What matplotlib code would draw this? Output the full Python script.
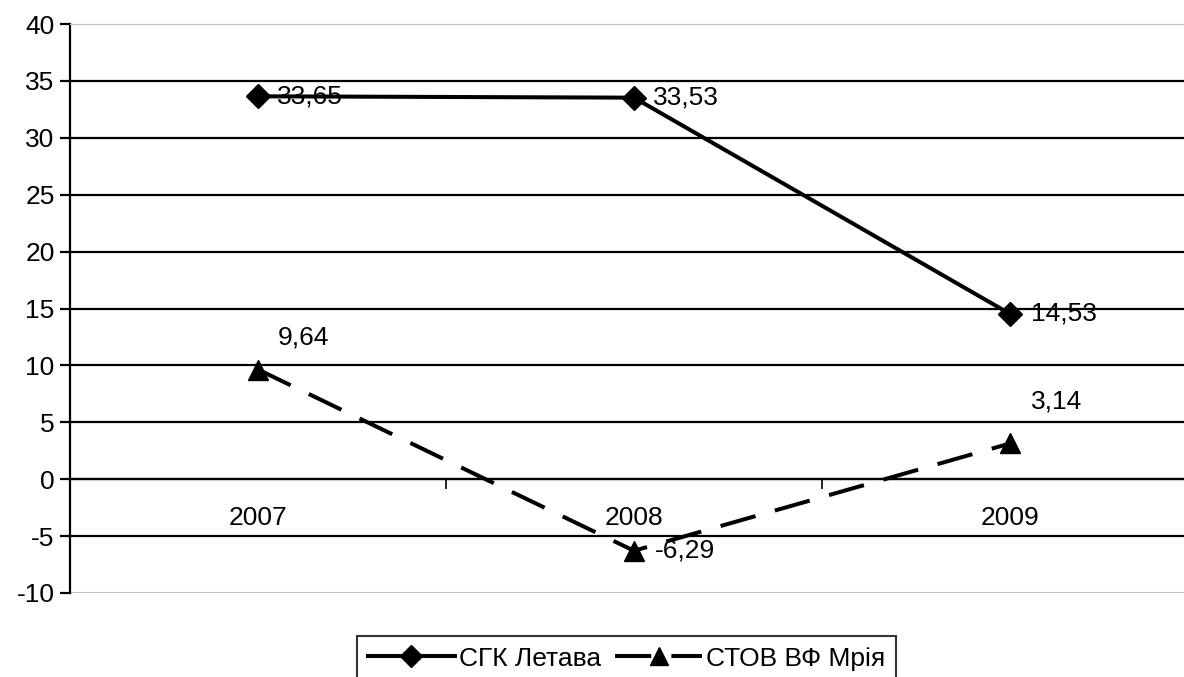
import matplotlib
matplotlib.use("Agg")
import matplotlib.pyplot as plt
from matplotlib import rcParams

rcParams['font.family'] = ['Liberation Sans', 'DejaVu Sans']
rcParams['font.size'] = 19
rcParams['axes.unicode_minus'] = False

# data
years = ['2007', '2008', '2009']
letava = [33.65, 33.53, 14.53]
mriya = [9.64, -6.29, 3.14]
letava_lbl = ['33,65', '33,53', '14,53']
mriya_lbl = ['9,64', '-6,29', '3,14']
yticks = list(range(-10, 45, 5))

fig = plt.figure(figsize=(11.84, 6.77), dpi=100)
ax = fig.add_axes([0.0591, 0.1241, 0.9527, 0.8404])

x = list(range(len(years)))
ax.set_xlim(-0.5, 2.5)
ax.set_ylim(-10, 40)

for y in yticks:
    if y in (-10, 40):
        continue
    ax.axhline(y, color='black', lw=1.6, zorder=1)

ax.plot(x, letava, color='black', lw=2.9, marker='D', ms=12,
        label='СГК Летава', zorder=3)
ax.plot(x, mriya, color='black', lw=2.9, marker='^', ms=15,
        dashes=(9, 5), label='СТОВ ВФ Мрія', zorder=3)

# data labels (offsets in points)
offs_l = [(14, 0), (14, 0), (15, 0)]
offs_m = [(14, 23), (15, 0), (15, 30)]
for xi, v, t, o in zip(x, letava, letava_lbl, offs_l):
    ax.annotate(t, (xi, v), xytext=o, textcoords='offset points',
                va='center', ha='left', zorder=4)
for xi, v, t, o in zip(x, mriya, mriya_lbl, offs_m):
    ax.annotate(t, (xi, v), xytext=o, textcoords='offset points',
                va='center', ha='left', zorder=4)

# axes styling
ax.spines['top'].set_color('#c0c0c0')
ax.spines['right'].set_color('#c0c0c0')
ax.spines['left'].set_linewidth(1.6)
ax.set_yticks(yticks)
ax.tick_params(axis='y', direction='out', length=7, width=1.6, pad=4)

# bottom border at -10 (light)
ax.axhline(-10, color='#c0c0c0', lw=1.5, zorder=1)

# category axis sitting on y = 0
ax.set_xticks([0.5, 1.5])
ax.set_xticklabels([])
ax.tick_params(axis='x', direction='out', length=7, width=1.2)
ax.spines['bottom'].set_position(('data', 0))
ax.spines['bottom'].set_linewidth(1.6)
for xi, lab in zip(x, years):
    ax.annotate(lab, (xi, 0), xytext=(0, -28), textcoords='offset points',
                ha='center', va='center')

leg = fig.legend(loc='upper left', bbox_to_anchor=(357 / 1184, 1 - 636 / 677),
                 ncol=2, frameon=True, fancybox=False, edgecolor='black',
                 handlelength=3.3, handletextpad=0.15, columnspacing=0.55,
                 borderpad=0.4, borderaxespad=0, markerscale=0.9)
leg.get_frame().set_linewidth(1.5)

fig.savefig('out.png', dpi=100)
